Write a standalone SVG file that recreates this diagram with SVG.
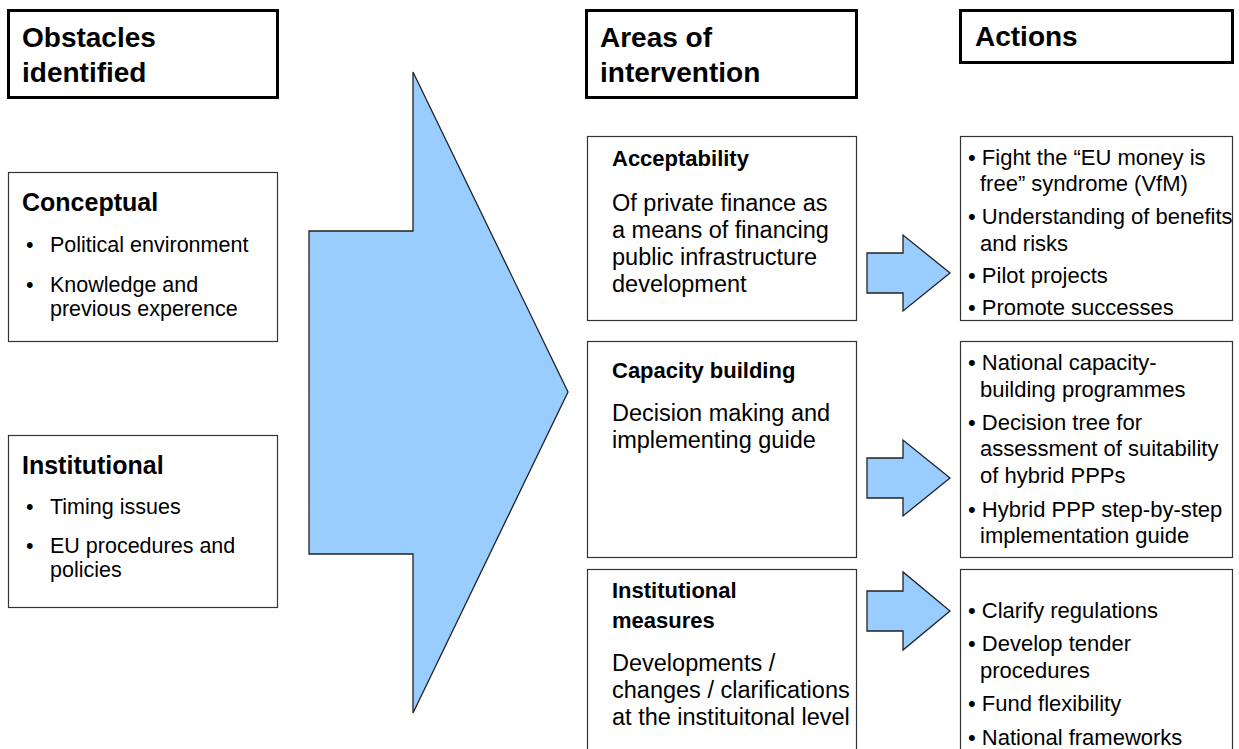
<svg xmlns="http://www.w3.org/2000/svg" width="1239" height="749" viewBox="0 0 1239 749">
<style>
text{font-family:"Liberation Sans",Arial,sans-serif;fill:#000}
.hdr{fill:#fff;stroke:#000;stroke-width:3}
.box{fill:#fff;stroke:#333;stroke-width:1.2}
.h{font-size:28px;font-weight:bold}
.lt{font-size:25px;font-weight:bold}
.lb{font-size:21.5px}
.rt{font-size:22px;font-weight:bold}
.rb{font-size:23.5px}
.ab{font-size:22px}
.arrow{fill:#99CCFF;stroke:#222;stroke-width:1.3;stroke-linejoin:miter}
</style>
<g id="connectors">
<polygon class="arrow" points="309,231 413,231 413,72 568,392 413,713 413,554 309,554"/>
<polygon class="arrow" points="867,253 903,253 903,235 950,273 903,311 903,293 867,293"/>
<polygon class="arrow" points="867,458 903,458 903,440 950,478 903,516 903,498 867,498"/>
<polygon class="arrow" points="867,591 903,591 903,572 950,611 903,650 903,631 867,631"/>
</g>
<g id="hdr-obstacles">
<rect class="hdr" x="8.5" y="10.5" width="269" height="87"/>
<text class="h" x="22" y="47">Obstacles</text>
<text class="h" x="22" y="82">identified</text>
</g>
<g id="hdr-areas">
<rect class="hdr" x="586.5" y="10.5" width="270" height="87"/>
<text class="h" x="600" y="47">Areas of</text>
<text class="h" x="600" y="82">intervention</text>
</g>
<g id="hdr-actions">
<rect class="hdr" x="960.5" y="10.5" width="272" height="52"/>
<text class="h" x="975" y="46">Actions</text>
</g>
<g id="conceptual">
<rect class="box" x="8.5" y="172.5" width="269" height="169"/>
<text class="lt" x="22" y="211">Conceptual</text>
<text class="lb" x="26" y="252">•</text>
<text class="lb" x="50" y="252">Political environment</text>
<text class="lb" x="26" y="292">•</text>
<text class="lb" x="50" y="292">Knowledge and</text>
<text class="lb" x="50" y="316">previous experence</text>
</g>
<g id="institutional">
<rect class="box" x="8.5" y="435.5" width="269" height="172"/>
<text class="lt" x="22" y="474">Institutional</text>
<text class="lb" x="26" y="514">•</text>
<text class="lb" x="50" y="514">Timing issues</text>
<text class="lb" x="26" y="553">•</text>
<text class="lb" x="50" y="553">EU procedures and</text>
<text class="lb" x="50" y="577">policies</text>
</g>
<g id="acceptability">
<rect class="box" x="587.5" y="136.5" width="269" height="184"/>
<text class="rt" x="612" y="166">Acceptability</text>
<text class="rb" x="612" y="211">Of private finance as</text>
<text class="rb" x="612" y="238">a means of financing</text>
<text class="rb" x="612" y="265">public infrastructure</text>
<text class="rb" x="612" y="292">development</text>
</g>
<g id="capacity">
<rect class="box" x="587.5" y="341.5" width="269" height="216"/>
<text class="rt" x="612" y="378">Capacity building</text>
<text class="rb" x="612" y="421">Decision making and</text>
<text class="rb" x="612" y="448">implementing guide</text>
</g>
<g id="inst-measures">
<rect class="box" x="587.5" y="569.5" width="269" height="200"/>
<text class="rt" x="612" y="598">Institutional</text>
<text class="rt" x="612" y="628">measures</text>
<text class="rb" x="612" y="671">Developments /</text>
<text class="rb" x="612" y="698">changes / clarifications</text>
<text class="rb" x="612" y="725">at the instituitonal level</text>
</g>
<g id="actions-1">
<rect class="box" x="960.5" y="136.5" width="272" height="184"/>
<text class="ab" x="968" y="165">• Fight the “EU money is</text>
<text class="ab" x="980" y="191">free” syndrome (VfM)</text>
<text class="ab" x="968" y="224">• Understanding of benefits</text>
<text class="ab" x="980" y="251">and risks</text>
<text class="ab" x="968" y="283">• Pilot projects</text>
<text class="ab" x="968" y="315">• Promote successes</text>
</g>
<g id="actions-2">
<rect class="box" x="960.5" y="341.5" width="272" height="216"/>
<text class="ab" x="968" y="370">• National capacity-</text>
<text class="ab" x="980" y="397">building programmes</text>
<text class="ab" x="968" y="430">• Decision tree for</text>
<text class="ab" x="980" y="456">assessment of suitability</text>
<text class="ab" x="980" y="483">of hybrid PPPs</text>
<text class="ab" x="968" y="517">• Hybrid PPP step-by-step</text>
<text class="ab" x="980" y="543">implementation guide</text>
</g>
<g id="actions-3">
<rect class="box" x="960.5" y="569.5" width="272" height="200"/>
<text class="ab" x="968" y="618">• Clarify regulations</text>
<text class="ab" x="968" y="651">• Develop tender</text>
<text class="ab" x="980" y="678">procedures</text>
<text class="ab" x="968" y="711">• Fund flexibility</text>
<text class="ab" x="968" y="745">• National frameworks</text>
</g>
</svg>
